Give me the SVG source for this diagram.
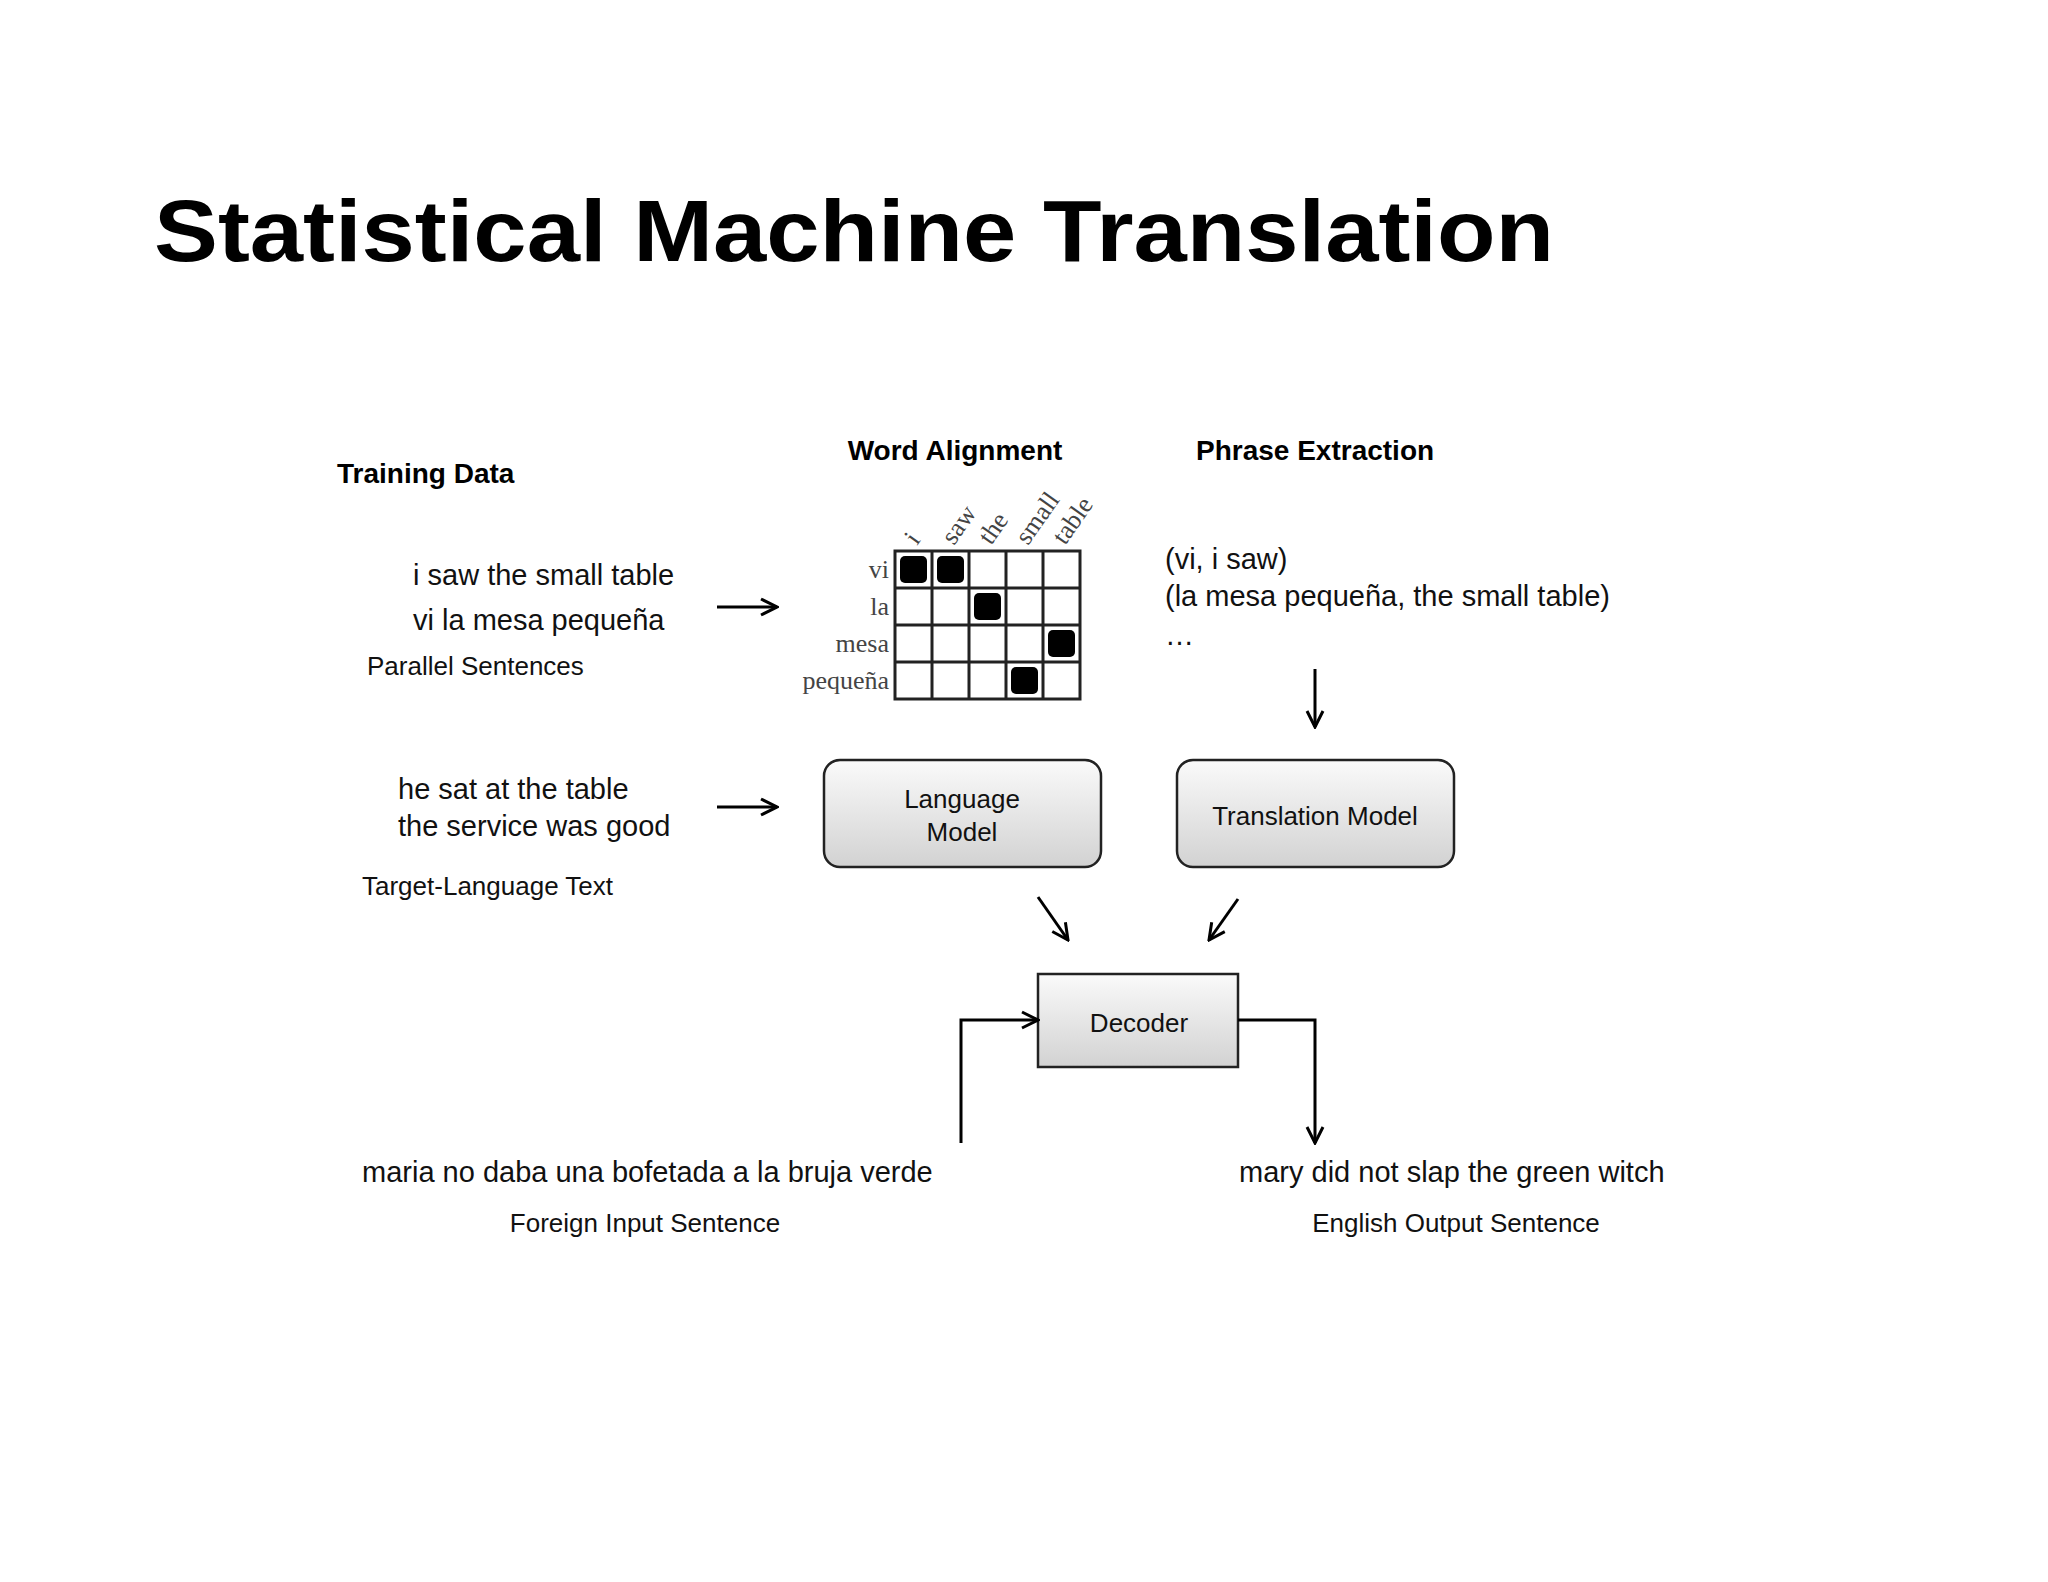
<svg xmlns="http://www.w3.org/2000/svg" width="2048" height="1582" viewBox="0 0 2048 1582">
<defs>
<linearGradient id="g" x1="0" y1="0" x2="0" y2="1"><stop offset="0" stop-color="#fafafa"/><stop offset="1" stop-color="#d2d2d2"/></linearGradient>
<marker id="a" viewBox="0 0 12 12" refX="11" refY="6" markerWidth="12" markerHeight="12" markerUnits="userSpaceOnUse" orient="auto"><path d="M1,1 L11,6 L1,11" fill="none" stroke="#000" stroke-width="2.5"/></marker>
<marker id="b" viewBox="0 0 20 20" refX="18" refY="10" markerWidth="20" markerHeight="20" markerUnits="userSpaceOnUse" orient="auto"><path d="M2,2 L18,10 L2,18" fill="none" stroke="#000" stroke-width="3"/></marker>
<style>
.t{font-family:"Liberation Sans",Arial,sans-serif;fill:#111}
.h{font-family:"Liberation Sans",Arial,sans-serif;font-weight:bold;font-size:28px}
.s{font-size:29px}.m{font-size:26px}
.sf{font-family:"Liberation Serif",serif;font-size:26px;fill:#444}
.c{stroke:#000;stroke-width:3;fill:none}
.box{fill:url(#g);stroke:#222;stroke-width:2.5}
</style>
</defs>
<rect width="2048" height="1582" fill="#fff"/>
<text x="154" y="261" font-family="Liberation Sans,Arial,sans-serif" font-weight="900" font-size="88" textLength="1400" lengthAdjust="spacingAndGlyphs">Statistical Machine Translation</text>
<text class="h" x="337" y="483">Training Data</text>
<text class="h" x="955" y="460" text-anchor="middle">Word Alignment</text>
<text class="h" x="1196" y="460">Phrase Extraction</text>
<g id="parallel">
<text class="t s" x="413" y="585">i saw the small table</text>
<text class="t s" x="413" y="630">vi la mesa pequeña</text>
<text class="t m" x="367" y="675">Parallel Sentences</text>
</g>
<g id="alignment">
<g fill="#fff" stroke="#222" stroke-width="3">
<rect x="895" y="551" width="185" height="148"/>
</g>
<path d="M932,551V699M969,551V699M1006,551V699M1043,551V699M895,588H1080M895,625H1080M895,662H1080" stroke="#222" stroke-width="3"/>
<g fill="#000">
<rect x="900" y="556" width="27" height="27" rx="5"/>
<rect x="937" y="556" width="27" height="27" rx="5"/>
<rect x="974" y="593" width="27" height="27" rx="5"/>
<rect x="1048" y="630" width="27" height="27" rx="5"/>
<rect x="1011" y="667" width="27" height="27" rx="5"/>
</g>
<g class="sf" text-anchor="end">
<text x="889" y="578">vi</text>
<text x="889" y="615">la</text>
<text x="889" y="652">mesa</text>
<text x="889" y="689">pequeña</text>
</g>
<g class="sf">
<text transform="translate(917,546) rotate(-55)">i</text>
<text transform="translate(954,546) rotate(-55)">saw</text>
<text transform="translate(991,546) rotate(-55)">the</text>
<text transform="translate(1028,546) rotate(-55)">small</text>
<text transform="translate(1065,546) rotate(-55)">table</text>
</g>
</g>
<g id="phrases">
<text class="t s" x="1165" y="569">(vi, i saw)</text>
<text class="t s" x="1165" y="606">(la mesa pequeña, the small table)</text>
<text class="t s" x="1165" y="645">…</text>
</g>
<g id="target">
<text class="t s" x="398" y="799">he sat at the table</text>
<text class="t s" x="398" y="836">the service was good</text>
<text class="t m" x="362" y="895">Target-Language Text</text>
</g>
<g id="lm"><rect class="box" x="824" y="760" width="277" height="107" rx="16"/>
<text class="t m" x="962" y="808" text-anchor="middle">Language</text>
<text class="t m" x="962" y="841" text-anchor="middle">Model</text></g>
<g id="tm"><rect class="box" x="1177" y="760" width="277" height="107" rx="16"/>
<text class="t m" x="1315" y="825" text-anchor="middle">Translation Model</text></g>
<g id="decoder"><rect x="1038" y="974" width="200" height="93" fill="url(#g)" stroke="#222" stroke-width="2.5"/>
<text class="t m" x="1139" y="1032" text-anchor="middle">Decoder</text></g>
<g id="input">
<text class="t s" x="362" y="1182">maria no daba una bofetada a la bruja verde</text>
<text class="t m" x="645" y="1232" text-anchor="middle">Foreign Input Sentence</text></g>
<g id="output">
<text class="t s" x="1239" y="1182">mary did not slap the green witch</text>
<text class="t m" x="1456" y="1232" text-anchor="middle">English Output Sentence</text></g>
<g id="connectors">
<path class="c" d="M717,607H777" marker-end="url(#b)"/>
<path class="c" d="M717,807H777" marker-end="url(#b)"/>
<path class="c" d="M1315,669V727" marker-end="url(#b)"/>
<path class="c" d="M1038,897L1068,940" marker-end="url(#b)"/>
<path class="c" d="M1238,899L1209,940" marker-end="url(#b)"/>
<path class="c" d="M961,1143V1020H1038" marker-end="url(#b)"/>
<path class="c" d="M1238,1020H1315V1143" marker-end="url(#b)"/>
</g>
</svg>
